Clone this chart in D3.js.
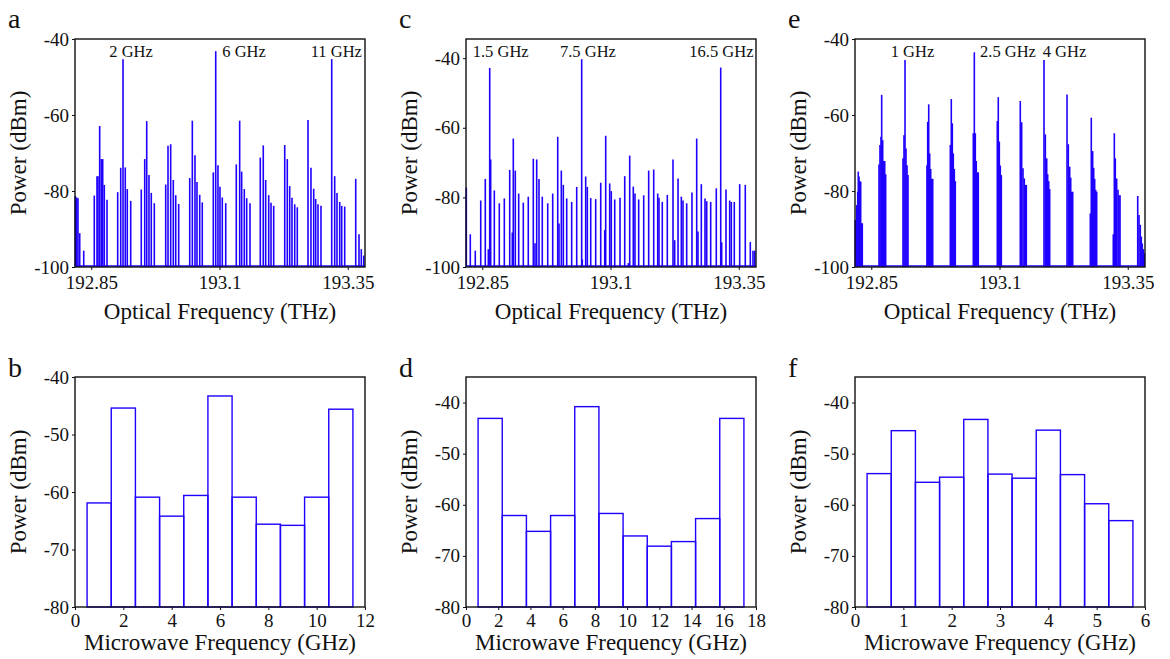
<!DOCTYPE html>
<html>
<head>
<meta charset="utf-8">
<script src="https://cdn.jsdelivr.net/npm/d3@7"></script>
<style>
  body { margin: 0; background: #fff; }
  text { font-family: "Liberation Serif", "Times New Roman", serif; fill: #111; }
</style>
</head>
<body>
<div id="chart"></div>
<script>
// optical spectra (THz, dBm)
const opticalTicks = [192.85, 193.1, 193.35];
const powerTicksTop = [-100, -80, -60, -40];
const powerTicksBottom = [-80, -70, -60, -50, -40];

const freqA = [
  192.8189, 192.8216, 192.8241, 192.8275, 192.8353,
  192.8559, 192.8612, 192.8631, 192.8664, 192.8696, 192.8723, 192.8754, 192.8807,
  192.9015, 192.9074, 192.9119, 192.9163, 192.9202, 192.9269,
  192.9475, 192.9542, 192.9581, 192.9625, 192.9670, 192.9729,
  192.9951, 192.9996, 193.0048, 193.0099, 193.0146, 193.0204,
  193.0419, 193.0470, 193.0522, 193.0561, 193.0614, 193.0664,
  193.0879, 193.0926, 193.0970, 193.1009, 193.1054, 193.1121,
  193.1327, 193.1393, 193.1432, 193.1483, 193.1530, 193.1594,
  193.1795, 193.1853, 193.1900, 193.1959, 193.2004, 193.2056,
  193.2271, 193.2321, 193.2368, 193.2413, 193.2466, 193.2516,
  193.2725, 193.2783, 193.2836, 193.2875, 193.2920, 193.2978,
  193.3187, 193.3245, 193.3290, 193.3343, 193.3382, 193.3440,
  193.3655, 193.3719, 193.3764, 193.3811
];
const powA = [
  -81.3, -81.7, -81.9, -91.1, -95.7,
  -81.2, -76.1, -76.1, -62.9, -71.6, -71.6, -78.4, -82.3,
  -80.3, -73.9, -45.3, -73.8, -79.5, -82.6,
  -79.6, -71.6, -61.6, -75.8, -80.5, -83.2,
  -78.3, -68.1, -67.7, -77.1, -81.1, -83.4,
  -76.6, -61.5, -70.6, -77.6, -81.0, -83.0,
  -75.1, -43.2, -73.2, -78.9, -81.7, -83.2,
  -73.0, -61.5, -74.9, -79.5, -81.9, -83.2,
  -71.2, -68.0, -77.1, -81.1, -83.1, -83.9,
  -67.9, -71.6, -78.7, -81.8, -83.5, -84.3,
  -61.3, -73.9, -79.4, -82.1, -83.5, -83.9,
  -45.3, -76.1, -80.5, -82.9, -83.9, -84.1,
  -76.8, -91.4, -95.3, -97.0
];

const freqC = [
  192.8189, 192.8267, 192.8364, 192.8470, 192.8559, 192.8618, 192.8645, 192.8664,
  192.8735, 192.8832, 192.8930, 192.9035, 192.9086, 192.9105, 192.9144, 192.9210,
  192.9300, 192.9397, 192.9495, 192.9528, 192.9561, 192.9606, 192.9670, 192.9776,
  192.9873, 192.9971, 192.9996, 193.0041, 193.0080, 193.0146, 193.0243, 193.0341,
  193.0438, 193.0450, 193.0516, 193.0548, 193.0614, 193.0711, 193.0809, 193.0887,
  193.0906, 193.0984, 193.1015, 193.1082, 193.1185, 193.1277, 193.1347, 193.1374,
  193.1444, 193.1477, 193.1549, 193.1647, 193.1744, 193.1842, 193.1920, 193.1945,
  193.2009, 193.2107, 193.2218, 193.2251, 193.2316, 193.2380, 193.2413, 193.2485,
  193.2588, 193.2680, 193.2705, 193.2770, 193.2842, 193.2875, 193.2953, 193.3062,
  193.3148, 193.3167, 193.3251, 193.3323, 193.3355, 193.3413, 193.3518, 193.3627,
  193.3725, 193.3777, 193.3811
];
const powC = [
  -77.2, -90.6, -95.3, -80.9, -74.7, -94.9, -42.8, -69.1,
  -78.0, -81.7, -80.3, -72.1, -90.1, -63.1, -72.3, -78.9,
  -81.5, -79.8, -68.9, -93.2, -69.1, -74.7, -79.8, -81.7,
  -78.9, -62.6, -87.5, -72.3, -76.4, -80.3, -81.3, -77.0,
  -40.3, -97.8, -74.0, -77.0, -80.2, -80.5, -75.8, -89.4,
  -62.3, -76.0, -78.2, -80.6, -80.1, -73.9, -98.9, -68.0,
  -76.9, -78.9, -80.6, -79.4, -72.3, -72.0, -78.9, -80.1,
  -81.3, -79.3, -69.1, -92.3, -74.6, -79.8, -80.9, -81.7,
  -78.6, -63.1, -89.8, -76.2, -80.3, -81.1, -81.3, -77.4,
  -42.7, -92.9, -77.7, -80.9, -81.3, -81.3, -76.2, -76.4,
  -92.8, -95.3, -95.3
];

const freqE = [
  192.8189, 192.8216, 192.8236, 192.8247, 192.8261, 192.8275, 192.8294, 192.8306, 192.8325,
  192.8651, 192.8670, 192.8690, 192.8703, 192.8723, 192.8742, 192.8762, 192.8781,
  192.9119, 192.9138, 192.9158, 192.9177, 192.9197, 192.9216,
  192.9586, 192.9600, 192.9620, 192.9639, 192.9659, 192.9678, 192.9698,
  193.0041, 193.0060, 193.0080, 193.0099, 193.0119, 193.0138,
  193.0489, 193.0509, 193.0528, 193.0547, 193.0567, 193.0586,
  193.0957, 193.0976, 193.0996, 193.1015, 193.1035,
  193.1405, 193.1432, 193.1458, 193.1483, 193.1503, 193.1522,
  193.1867, 193.1893, 193.1920, 193.1939, 193.1959, 193.1978,
  193.2316, 193.2341, 193.2368, 193.2388, 193.2407, 193.2427,
  193.2770, 193.2789, 193.2816, 193.2836, 193.2855, 193.2875, 193.2894,
  193.3218, 193.3238, 193.3257, 193.3284, 193.3310, 193.3329, 193.3349,
  193.3694, 193.3719, 193.3744, 193.3764, 193.3783, 193.3803, 193.3822
];
const powE = [
  -87.6, -83.7, -80.2, -74.9, -76.2, -77.5, -77.5, -88.5, -88.5,
  -73.0, -67.9, -65.7, -54.7, -66.6, -72.1, -72.1, -75.6,
  -71.4, -65.3, -45.5, -68.8, -73.2, -75.8,
  -73.2, -61.8, -57.2, -70.1, -74.2, -76.8, -76.8,
  -67.9, -55.8, -62.2, -70.1, -74.2, -77.4,
  -64.8, -43.5, -64.8, -72.1, -75.1, -75.1,
  -61.6, -55.3, -67.0, -73.3, -75.8,
  -56.3, -61.9, -74.0, -76.7, -78.4, -78.4,
  -45.5, -65.1, -71.4, -75.6, -77.4, -79.5,
  -54.6, -67.7, -73.6, -76.5, -80.2, -80.2,
  -85.9, -60.7, -69.5, -73.9, -76.8, -79.7, -80.2,
  -91.4, -64.8, -71.4, -76.7, -79.7, -81.1, -81.1,
  -81.3, -86.3, -88.9, -92.0, -93.8, -95.3, -96.4
];

// peak annotations (text, THz where the text starts)
const labelsA = ["2 GHz", "6 GHz", "11 GHz"];
const labelXA = [192.8852, 193.1054, 193.2778];
const labelsC = ["1.5 GHz", "7.5 GHz", "16.5 GHz"];
const labelXC = [192.8314, 193.0015, 193.2536];
const labelsE = ["1 GHz", "2.5 GHz", "4 GHz"];
const labelXE = [192.8879, 193.0620, 193.1842];

// microwave spectra (GHz, dBm)
const mwFreqB = [1, 2, 3, 4, 5, 6, 7, 8, 9, 10, 11];
const mwPowB = [-61.9, -45.4, -60.9, -64.2, -60.6, -43.3, -60.9, -65.6, -65.8, -60.9, -45.6];
const mwTicksB = [0, 2, 4, 6, 8, 10, 12];

const mwFreqD = [1.5, 3, 4.5, 6, 7.5, 9, 10.5, 12, 13.5, 15, 16.5];
const mwPowD = [-43.1, -62.1, -65.2, -62.1, -40.8, -61.7, -66.1, -68.1, -67.2, -62.7, -43.1];
const mwTicksD = [0, 2, 4, 6, 8, 10, 12, 14, 16, 18];

const mwFreqF = [0.5, 1, 1.5, 2, 2.5, 3, 3.5, 4, 4.5, 5, 5.5];
const mwPowF = [-53.9, -45.5, -55.6, -54.6, -43.3, -54.0, -54.8, -45.4, -54.1, -59.8, -63.1];
const mwTicksF = [0, 1, 2, 3, 4, 5, 6];

const blue = "#1f00ff";
const serif = '"Liberation Serif", "Times New Roman", serif';
const svg = d3.select("#chart").append("svg")
  .attr("width", 1170)
  .attr("height", 659);

function styleAxis(sel) {
  sel.attr("font-family", serif);
  sel.select(".domain").remove();
  sel.selectAll(".tick line").attr("stroke", "#111");
  sel.selectAll(".tick text").style("font-size", "19px").attr("fill", "#111");
}

function frame(g, w, h) {
  g.append("rect")
    .attr("width", w)
    .attr("height", h)
    .attr("fill", "none")
    .attr("stroke", "#111")
    .attr("stroke-width", 1.4);
}

function titles(g, w, h, xTitle, titleGap, letter, letterY) {
  g.append("text")
    .attr("x", w / 2)
    .attr("y", h + titleGap)
    .attr("text-anchor", "middle")
    .style("font-size", "23px")
    .text(xTitle);
  g.append("text")
    .attr("transform", `translate(-49,${h / 2}) rotate(-90)`)
    .attr("text-anchor", "middle")
    .style("font-size", "23px")
    .text("Power (dBm)");
  g.append("text")
    .attr("x", -67)
    .attr("y", letterY)
    .style("font-size", "28px")
    .text(letter);
}

// Obere Reihe: optische Spektren
function drawSpectrum(left, top, freqs, powers, yTop, labels, labelX, letter) {
  const w = 290, h = 228;
  const x = d3.scaleLinear().domain([192.8183, 193.3836]).range([0, w]);
  const y = d3.scaleLinear().domain([-100, yTop]).range([h, 0]);
  const g = svg.append("g").attr("transform", `translate(${left},${top})`);

  g.selectAll("line.comb")
    .data(d3.zip(freqs, powers))
    .join("line")
    .attr("class", "comb")
    .attr("x1", d => x(d[0]))
    .attr("x2", d => x(d[0]))
    .attr("y1", y(-100))
    .attr("y2", d => y(d[1]))
    .attr("stroke", blue)
    .attr("stroke-width", 1.6);

  g.append("line")
    .attr("x1", 0).attr("x2", w)
    .attr("y1", y(-100) - 1).attr("y2", y(-100) - 1)
    .attr("stroke", blue)
    .attr("stroke-width", 1.5);

  labels.forEach((t, i) => {
    g.append("text")
      .attr("x", x(labelX[i]))
      .attr("y", 18)
      .style("font-size", "16.5px")
      .text(t);
  });

  g.append("g")
    .attr("transform", `translate(0,${h})`)
    .call(d3.axisBottom(x).tickValues(opticalTicks).tickFormat(d => String(d)).tickSize(3).tickPadding(6))
    .call(styleAxis);
  g.append("g")
    .call(d3.axisLeft(y).tickValues(powerTicksTop).tickFormat(d => String(d)).tickSize(3).tickPadding(3))
    .call(styleAxis);

  frame(g, w, h);
  titles(g, w, h, "Optical Frequency (THz)", 52, letter, -11);
}

// Untere Reihe: Mikrowellenspektren als Balken
function drawBars(left, top, freqs, powers, xMax, ticks, yTop, letter) {
  const w = 290, h = 230;
  const x = d3.scaleLinear().domain([0, xMax]).range([0, w]);
  const y = d3.scaleLinear().domain([-80, yTop]).range([h, 0]);
  const step = freqs[1] - freqs[0];
  const g = svg.append("g").attr("transform", `translate(${left},${top})`);

  g.selectAll("rect.bar")
    .data(d3.zip(freqs, powers))
    .join("rect")
    .attr("class", "bar")
    .attr("x", d => x(d[0] - step / 2))
    .attr("width", x(step) - x(0))
    .attr("y", d => y(d[1]))
    .attr("height", d => y(-80) - y(d[1]))
    .attr("fill", "none")
    .attr("stroke", blue)
    .attr("stroke-width", 1.4);

  g.append("g")
    .attr("transform", `translate(0,${h})`)
    .call(d3.axisBottom(x).tickValues(ticks).tickFormat(d => String(d)).tickSize(3).tickPadding(4))
    .call(styleAxis);
  g.append("g")
    .call(d3.axisLeft(y).tickValues(powerTicksBottom).tickFormat(d => String(d)).tickSize(3).tickPadding(3))
    .call(styleAxis);

  frame(g, w, h);
  titles(g, w, h, "Microwave Frequency (GHz)", 43, letter, 0);
}

drawSpectrum(75, 39, freqA, powA, -40, labelsA, labelXA, "a");
drawSpectrum(466, 39, freqC, powC, -34.5, labelsC, labelXC, "c");
drawSpectrum(855, 39, freqE, powE, -40, labelsE, labelXE, "e");

drawBars(75, 377, mwFreqB, mwPowB, 12, mwTicksB, -40, "b");
drawBars(466, 377, mwFreqD, mwPowD, 18, mwTicksD, -35, "d");
drawBars(855, 377, mwFreqF, mwPowF, 6, mwTicksF, -35, "f");
</script>
</body>
</html>
